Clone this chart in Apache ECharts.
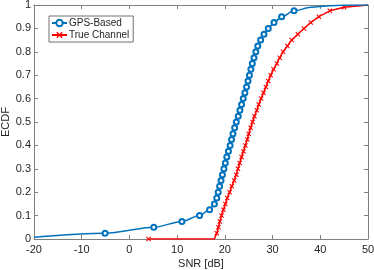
<!DOCTYPE html>
<html><head><meta charset="utf-8">
<script src="https://cdn.jsdelivr.net/npm/echarts@6/dist/echarts.min.js"></script>
<style>html,body{margin:0;padding:0;background:#fff}#c{width:374px;height:270px}</style>
</head><body><div id="c"></div>
<script>
// GPS-Based ECDF (x = SNR dB, y = ECDF)
var blueX = [-20, -5.1, 5.1, 11.0, 14.7, 16.8, 17.8, 18.3, 18.6, 18.9, 19.2, 19.5, 19.8, 20.1, 20.4, 20.75, 21.1, 21.4, 21.7, 22.05, 22.4, 22.8, 23.15, 23.5, 23.85, 24.2, 24.55, 24.85, 25.15, 25.45, 25.75, 26.1, 26.5, 26.9, 27.5, 28.2, 29.1, 30.3, 31.9, 34.5, 38, 42, 46, 50];
var blueY = [0.008, 0.025, 0.05, 0.075, 0.1, 0.125, 0.15, 0.175, 0.2, 0.225, 0.25, 0.275, 0.3, 0.325, 0.35, 0.375, 0.4, 0.425, 0.45, 0.475, 0.5, 0.525, 0.55, 0.575, 0.6, 0.625, 0.65, 0.675, 0.7, 0.725, 0.75, 0.775, 0.8, 0.825, 0.85, 0.875, 0.9, 0.925, 0.95, 0.975, 0.99, 0.997, 1.0, 1.0];
var bluePlain = [0, 40, 41, 42, 43];
// True Channel ECDF
var redX = [4, 17.8, 18.3, 18.65, 18.95, 19.3, 19.7, 20.1, 20.5, 21.0, 21.45, 21.95, 22.4, 22.75, 23.1, 23.5, 23.9, 24.3, 24.7, 25.0, 25.4, 25.8, 26.2, 26.7, 27.1, 27.6, 28.1, 28.6, 29.1, 29.6, 30.2, 30.9, 31.5, 32.2, 33.1, 34.0, 35.3, 36.6, 38.0, 39.7, 42.0, 45.0, 50];
var redY = [0, 0, 0.025, 0.05, 0.075, 0.1, 0.125, 0.15, 0.175, 0.2, 0.225, 0.25, 0.275, 0.3, 0.325, 0.35, 0.375, 0.4, 0.425, 0.45, 0.475, 0.5, 0.525, 0.55, 0.575, 0.6, 0.625, 0.65, 0.675, 0.7, 0.725, 0.75, 0.775, 0.8, 0.825, 0.85, 0.875, 0.9, 0.925, 0.95, 0.975, 0.99, 1.0];
var redPlain = [1, 42];
var seriesNames = ['GPS-Based', 'True Channel'];
var xTicks = [-20, -10, 0, 10, 20, 30, 40, 50];
var yTicks = [0, 0.1, 0.2, 0.3, 0.4, 0.5, 0.6, 0.7, 0.8, 0.9, 1];

function build(xs, ys, plain) {
  return xs.map(function (x, i) {
    var d = { value: [x, ys[i]] };
    if (plain.indexOf(i) >= 0) d.symbol = 'none';
    return d;
  });
}
var FONT = 'Liberation Sans, Arial, sans-serif';
var AX = '#808080';
var TXT = '#262626';
var crossPath = 'path://M0,1.5L1.5,0L5,3.5L8.5,0L10,1.5L6.5,5L10,8.5L8.5,10L5,6.5L1.5,10L0,8.5L3.5,5Z';

var chart = echarts.init(document.getElementById('c'), null, { renderer: 'canvas' });
function baseAxis(extra) {
  return Object.assign({
    type: 'value',
    axisLine: { show: true, onZero: false, lineStyle: { color: AX, width: 1 } },
    axisTick: { show: true, inside: true, length: 4, lineStyle: { color: AX } },
    splitLine: { show: false }
  }, extra);
}
chart.setOption({
  animation: false,
  backgroundColor: '#fff',
  grid: { left: 34, right: 6, top: 5, bottom: 31, containLabel: false, outerBoundsMode: 'none' },
  legend: {
    data: seriesNames,
    orient: 'vertical',
    left: 49, top: 16,
    padding: [2, 4, 2, 2],
    itemGap: 2,
    itemWidth: 15, itemHeight: 8,
    backgroundColor: '#fff',
    borderColor: '#707070', borderWidth: 1,
    textStyle: { fontFamily: FONT, fontSize: 10, color: TXT, padding: [0, 0, 0, -3] }
  },
  xAxis: [
    baseAxis({ min: xTicks[0], max: xTicks[xTicks.length - 1], interval: 10, position: 'bottom',
      name: 'SNR [dB]', nameLocation: 'middle', nameGap: 19, nameMoveOverlap: false,
      nameTextStyle: { fontFamily: FONT, fontSize: 11, color: TXT },
      axisLabel: { fontFamily: FONT, fontSize: 11, color: TXT, margin: 5 } }),
    baseAxis({ min: xTicks[0], max: xTicks[xTicks.length - 1], interval: 10, position: 'top',
      axisLabel: { show: false } })
  ],
  yAxis: [
    baseAxis({ min: 0, max: 1, interval: 0.1, position: 'left',
      name: 'ECDF', nameLocation: 'middle', nameGap: 23, nameMoveOverlap: false,
      nameTextStyle: { fontFamily: FONT, fontSize: 11, color: TXT },
      axisLabel: { fontFamily: FONT, fontSize: 11, color: TXT, margin: 3,
        formatter: function (v) { return String(Math.round(v * 10) / 10); } } }),
    baseAxis({ min: 0, max: 1, interval: 0.1, position: 'right', axisLabel: { show: false } })
  ],
  series: [
    {
      name: seriesNames[0], type: 'line', xAxisIndex: 0, yAxisIndex: 0,
      data: build(blueX, blueY, bluePlain),
      smooth: 0.3, smoothMonotone: 'x',
      symbol: 'emptyCircle', symbolSize: 5, showAllSymbol: true,
      lineStyle: { color: '#0072BD', width: 1.5 },
      itemStyle: { color: '#0072BD', borderColor: '#0072BD', borderWidth: 1.2 },
      z: 3
    },
    {
      name: seriesNames[1], type: 'line', xAxisIndex: 0, yAxisIndex: 0,
      data: build(redX, redY, redPlain),
      symbol: crossPath, symbolSize: 5, showAllSymbol: true,
      lineStyle: { color: '#FF0000', width: 1.5 },
      itemStyle: { color: '#FF0000' },
      z: 2
    }
  ]
});
</script></body></html>
